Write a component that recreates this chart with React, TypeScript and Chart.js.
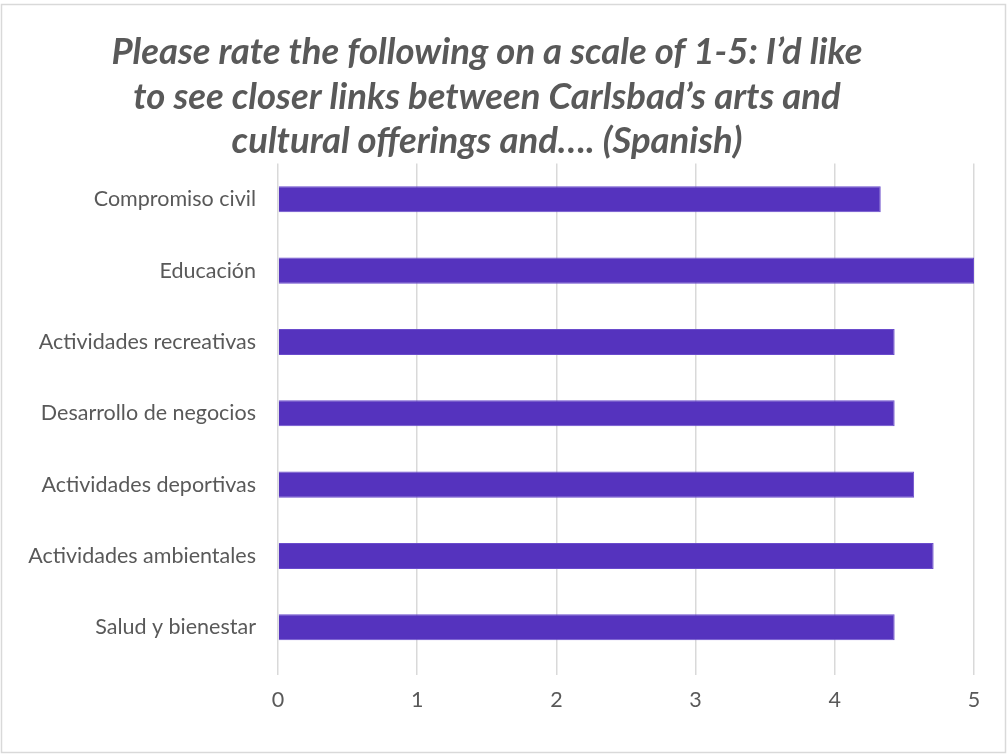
import React, { useEffect, useRef } from "react";
import { Chart, registerables } from "chart.js";

Chart.register(...registerables);

const titleLines = [
  "Please rate the following on a scale of 1-5: I’d like",
  "to see closer links between Carlsbad’s arts and",
  "cultural offerings and…. (Spanish)",
];

const categories = [
  "Compromiso civil",
  "Educación",
  "Actividades recreativas",
  "Desarrollo de negocios",
  "Actividades deportivas",
  "Actividades ambientales",
  "Salud y bienestar",
];

const values = [4.33, 5.0, 4.43, 4.43, 4.57, 4.71, 4.43];

const xTicks = [0, 1, 2, 3, 4, 5];

const FONT = "Lato, 'Open Sans', sans-serif";

const borderPlugin = {
  id: "outerBorder",
  beforeDraw(chart: any) {
    const ctx = chart.ctx;
    ctx.save();
    ctx.fillStyle = "#ffffff";
    ctx.fillRect(0, 0, chart.width, chart.height);
    ctx.strokeStyle = "#d9d9d9";
    ctx.lineWidth = 1.5;
    ctx.strokeRect(1.5, 4.5, chart.width - 4, chart.height - 8);
    ctx.restore();
  },
};

export default function App() {
  const ref = useRef<HTMLCanvasElement | null>(null);

  useEffect(() => {
    document.body.style.margin = "0";
    if (!ref.current) return;
    const chart = new Chart(ref.current, {
      type: "bar",
      data: {
        labels: categories,
        datasets: [
          {
            data: values,
            backgroundColor: "#5533BE",
            borderColor: "#6a4ccc",
            borderWidth: 1,
            categoryPercentage: 1,
            barPercentage: 0.365,
          },
        ],
      },
      plugins: [borderPlugin],
      options: {
        indexAxis: "y",
        responsive: false,
        animation: false,
        layout: { padding: { left: 0, right: 34, top: 0, bottom: 0 } },
        plugins: {
          legend: { display: false },
          tooltip: { enabled: false },
          title: {
            display: true,
            text: titleLines,
            color: "#595959",
            font: { family: FONT, size: 36.5, weight: "bold", style: "italic", lineHeight: 1.22 },
            padding: { top: 30, bottom: 0 },
          },
        },
        scales: {
          x: {
            type: "linear",
            min: 0,
            max: 5,
            afterBuildTicks(scale: any) {
              scale.ticks = xTicks.map((v) => ({ value: v }));
            },
            afterFit(scale: any) {
              scale.height = 93;
            },
            grid: {
              color: "#d9d9d9",
              lineWidth: 1.5,
              drawTicks: true,
              tickLength: 12,
              tickColor: "#d9d9d9",
            },
            border: { display: false },
            ticks: {
              color: "#595959",
              font: { family: FONT, size: 21.5 },
              padding: 12,
            },
          },
          y: {
            afterFit(scale: any) {
              scale.width = 278;
            },
            grid: { display: false, drawTicks: false },
            border: { display: false },
            ticks: {
              color: "#595959",
              font: { family: FONT, size: 21.5 },
              padding: 22,
            },
          },
        },
      },
    });
    return () => chart.destroy();
  }, []);

  return (
    <div style={{ width: 1008, height: 756 }}>
      <canvas ref={ref} width={1008} height={756} />
    </div>
  );
}
